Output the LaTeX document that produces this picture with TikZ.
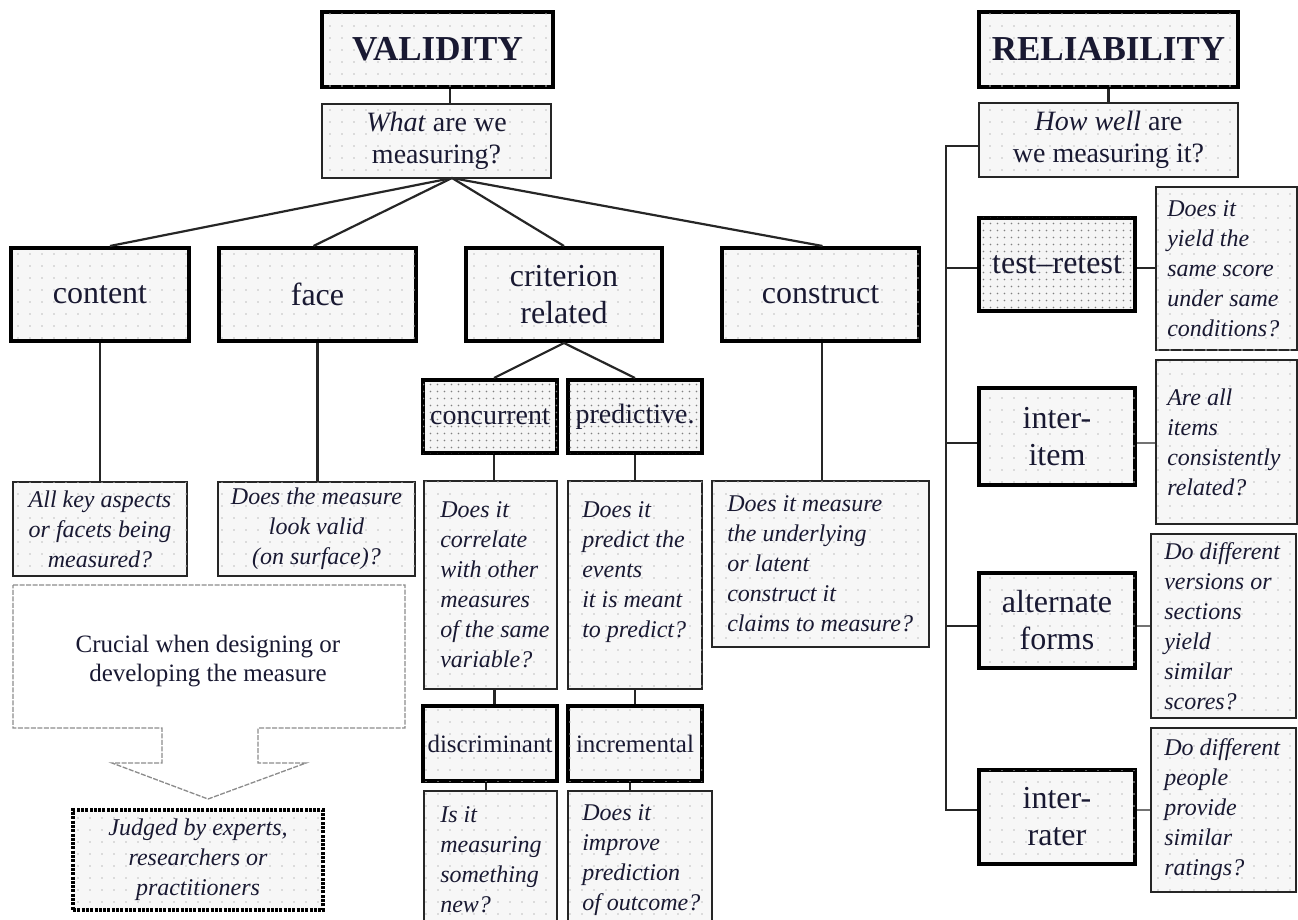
\documentclass[tikz,border=0pt]{standalone}
\usepackage{fontspec}
\setmainfont{Liberation Serif}
\usetikzlibrary{patterns.meta}
\definecolor{ink}{RGB}{25,25,50}
\tikzdeclarepattern{name=sparsedots, type=uncolored,
  bottom left={(-.1pt,-.1pt)}, top right={(12.1pt,12.1pt)},
  tile size={(12pt,12pt)},
  code={\fill (6pt,6pt) circle (0.8pt);}}
\tikzdeclarepattern{name=densedots, type=uncolored,
  bottom left={(-.1pt,-.1pt)}, top right={(7.1pt,7.1pt)},
  tile size={(7pt,7pt)},
  code={\fill (3.5pt,3.5pt) circle (0.9pt);}}
\begin{document}
\begin{tikzpicture}[x=1pt,y=-1pt,
  base/.style={fill=black!3, postaction={pattern=sparsedots, pattern color=black!25}, inner sep=0pt, text=ink},
  heavy/.style={base, draw=black, line width=4pt},
  light/.style={base, draw=black!85, line width=1.8pt},
  dense/.style={draw=black, line width=4pt, fill=black!4, postaction={pattern=densedots, pattern color=black!50}, inner sep=0pt, text=ink},
  title/.style={font=\bfseries\fontsize{35}{38}\selectfont},
  cat/.style={font=\fontsize{32}{37}\selectfont, align=center},
  sub/.style={font=\fontsize{28}{32}\selectfont, align=center},
  subs/.style={font=\fontsize{25}{29}\selectfont, align=center},
  ital/.style={font=\itshape\fontsize{24}{30}\selectfont, text=ink, inner sep=0pt},
  conn/.style={draw=black!85, line width=2.2pt},
  gconn/.style={draw=black!55, line width=2pt},
]
\useasboundingbox (0,0) rectangle (1298,920);
\clip (0,0) rectangle (1298,920);
\fill[white] (0,0) rectangle (1298,920);

% ---------------- VALIDITY ----------------
\node[heavy, title, minimum width=231, minimum height=75] (valid) at (437.5,49.5) {VALIDITY};
\node[light, sub, minimum width=229, minimum height=74] (q1) at (436.5,141) {\textit{What} are we\\measuring?};
\node[heavy, cat, minimum width=178, minimum height=93] (content) at (100,294.5) {content};
\node[heavy, cat, minimum width=197, minimum height=93] (face) at (317.5,294.5) {face};
\node[heavy, cat, minimum width=196, minimum height=93] (crit) at (564,294.5) {criterion\\related};
\node[heavy, cat, minimum width=197, minimum height=93] (constr) at (820.5,294.5) {construct};

\node[light, ital, align=center, minimum width=174, minimum height=94] (acont) at (100,529) {All key aspects\\or facets being\\measured?};
\node[light, ital, align=center, minimum width=197, minimum height=94] (aface) at (316.5,529) {Does the measure\\look valid\\(on surface)?};

\node[dense, sub, minimum width=134, minimum height=73] (conc) at (490,416.5) {concurrent};
\node[dense, sub, minimum width=134, minimum height=73] (pred) at (635,416.5) {predictive.};

\node[light, minimum width=133, minimum height=208] (aconc) at (490.5,585) {};
\node[ital, align=left, anchor=west, xshift=17] (aconcT) at (aconc.west) {Does it\\correlate\\with other\\measures\\of the same\\variable?};
\node[light, minimum width=134, minimum height=208] (apred) at (635,585) {};
\node[ital, align=left, anchor=north west, xshift=15] (apredT) at (apred.west |- aconcT.north) {Does it\\predict the\\events\\it is meant\\to predict?};

\node[light, minimum width=217, minimum height=166] (aconstr) at (820.5,564) {};
\node[ital, align=left, anchor=west, xshift=16] (aconstrT) at (aconstr.west) {Does it measure\\the underlying\\or latent\\construct it\\claims to measure?};

\node[heavy, subs, minimum width=134, minimum height=75] (disc) at (490,743.5) {discriminant};
\node[heavy, subs, minimum width=134, minimum height=75] (incr) at (635,743.5) {incremental};

\node[light, minimum width=133, minimum height=138] (adisc) at (490.5,860) {};
\node[ital, align=left, anchor=west, xshift=17] (adiscT) at (adisc.west) {Is it\\measuring\\something\\new?};
\node[light, minimum width=144, minimum height=138] (aincr) at (640,860) {};
\node[ital, align=left, anchor=west, xshift=15] (aincrT) at (aincr.west) {Does it\\improve\\prediction\\of outcome?};

% call-out arrow
\draw[black!45, line width=1.3pt, dash pattern=on 5pt off 1.5pt]
  (13,585) -- (405,585) -- (405,728) -- (258,728) -- (258,763) -- (306,763)
  -- (208,799) -- (112,763) -- (162,763) -- (162,728) -- (13,728) -- cycle;
\node[font=\fontsize{25}{29}\selectfont, align=center, text=ink] (crucial) at (208,661) {Crucial when designing or\\developing the measure};
\node[base, draw=black, line width=3.5pt, dash pattern=on 3pt off 1.3pt, ital, align=center, minimum width=250, minimum height=100] (judged) at (198,860) {Judged by experts,\\researchers or\\practitioners};

% connectors (validity)
\coordinate (fan) at (452,178);
\draw[conn] ([xshift=12.5]valid.south) -- ([xshift=13.5]q1.north);
\draw[conn] (fan) -- ([xshift=10]content.north);
\draw[conn] (fan) -- ([xshift=-4]face.north);
\draw[conn] (fan) -- (crit.north);
\draw[conn] (fan) -- ([xshift=2]constr.north);
\draw[conn] (content.south) -- (acont.north);
\draw[conn] (face.south) -- (face.south |- aface.north);
\draw[conn] ([xshift=1.5]constr.south) -- ([xshift=1.5]constr.south |- aconstr.north);
\draw[conn] (crit.south) -- ([xshift=4]conc.north);
\draw[conn] (crit.south) -- (pred.north);
\draw[conn] ([xshift=4]conc.south) -- ([xshift=4]conc.south |- aconc.north);
\draw[conn] (pred.south) -- (apred.north);
\draw[conn] ([xshift=4]aconc.south) -- ([xshift=4]aconc.south |- disc.north);
\draw[conn] (apred.south) -- (incr.north);
\draw[conn] ([xshift=-4]disc.south) -- ([xshift=-4]disc.south |- adisc.north);
\draw[conn] ([xshift=-5]incr.south) -- ([xshift=-5]incr.south |- aincr.north);

% ---------------- RELIABILITY ----------------
\node[heavy, title, minimum width=259, minimum height=75] (rel) at (1108.5,49.5) {RELIABILITY};
\node[light, sub, minimum width=259, minimum height=74] (q2) at (1108.5,140) {\textit{How well} are\\we measuring it?};
\node[dense, cat, minimum width=156, minimum height=93] (retest) at (1057,264.5) {test--retest};
\node[heavy, cat, minimum width=156, minimum height=97] (item) at (1057,436.5) {inter-\\item};
\node[heavy, cat, minimum width=156, minimum height=95] (alt) at (1057,620.5) {alternate\\forms};
\node[heavy, cat, minimum width=156, minimum height=94] (rater) at (1057,817) {inter-\\rater};

\node[light, minimum width=141, minimum height=163] (a1) at (1226.5,268.5) {};
\node[ital, align=left, anchor=west, xshift=12] (a1T) at (a1.west) {Does it\\yield the\\same score\\under same\\conditions?};
\node[light, minimum width=141, minimum height=164] (a2) at (1226.5,442) {};
\node[ital, align=left, anchor=west, xshift=12] (a2T) at (a2.west) {Are all\\items\\consistently\\related?};
\node[light, minimum width=145, minimum height=184] (a3) at (1223.5,626) {};
\node[ital, align=left, anchor=west, xshift=14] (a3T) at (a3.west) {Do different\\versions or\\sections\\yield\\similar\\scores?};
\node[light, minimum width=145, minimum height=164] (a4) at (1223.5,810) {};
\node[ital, align=left, anchor=west, xshift=14] (a4T) at (a4.west) {Do different\\people\\provide\\similar\\ratings?};

\coordinate (btop) at (946,146);
\coordinate (b1) at (946,268);
\coordinate (b2) at (946,443);
\coordinate (b3) at (946,626);
\coordinate (bbot) at (946,810);
\draw[conn] (rel.south) -- (q2.north);
\draw[conn] (btop -| q2.west) -- (btop) -- (bbot) -- (bbot -| rater.west);
\draw[conn] (b1) -- (b1 -| retest.west);
\draw[conn] (b2) -- (b2 -| item.west);
\draw[conn] (b3) -- (b3 -| alt.west);
\draw[conn] (b1 -| retest.east) -- (b1 -| a1.west);
\draw[gconn] (b2 -| item.east) -- (b2 -| a2.west);
\draw[gconn] (b3 -| alt.east) -- (b3 -| a3.west);
\draw[gconn] (bbot -| rater.east) -- (bbot -| a4.west);
\end{tikzpicture}
\end{document}
